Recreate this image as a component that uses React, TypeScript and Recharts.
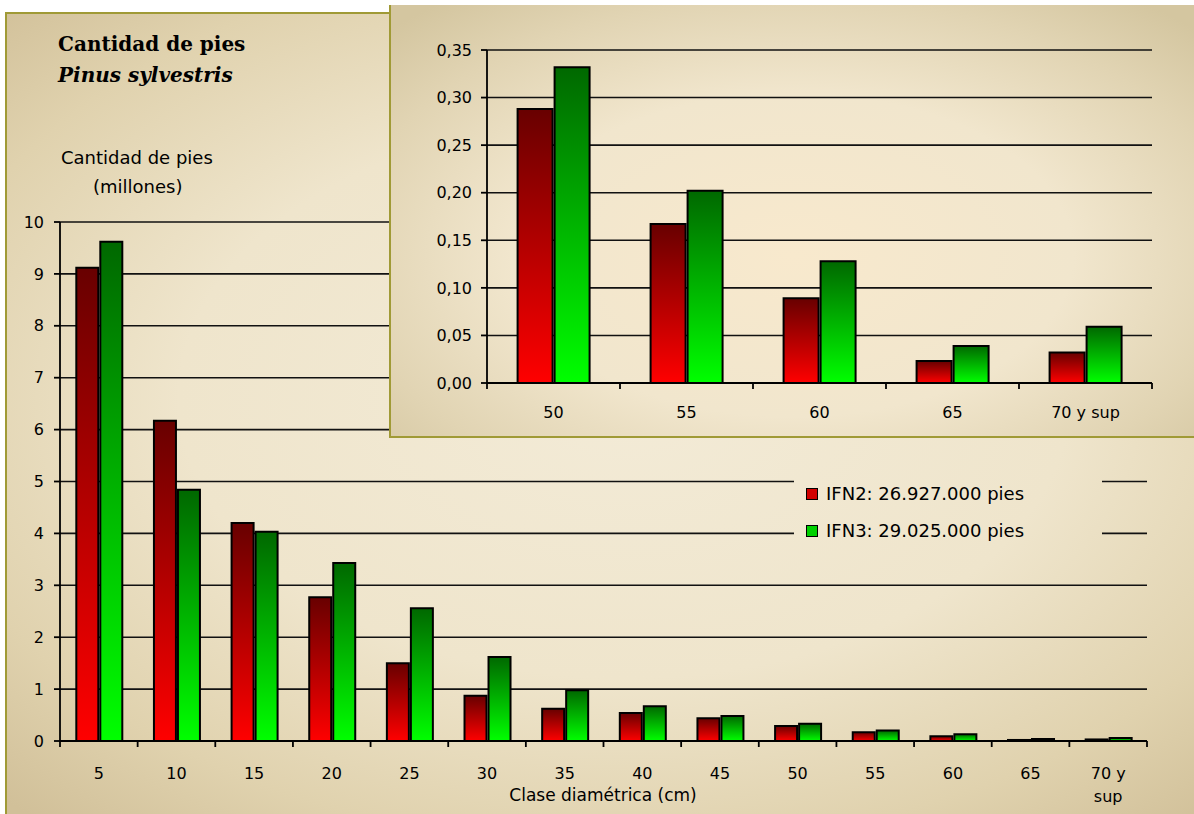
import { Bar, BarChart, CartesianGrid, XAxis, YAxis } from "recharts";

// Main chart: diameter classes (cm)
const categories = ["5", "10", "15", "20", "25", "30", "35", "40", "45", "50", "55", "60", "65", "70 y sup"];
// millions of trees
const ifn2 = [9.12, 6.17, 4.2, 2.77, 1.5, 0.87, 0.62, 0.54, 0.44, 0.29, 0.17, 0.09, 0.02, 0.03];
const ifn3 = [9.62, 4.84, 4.03, 3.43, 2.56, 1.62, 0.98, 0.67, 0.48, 0.33, 0.2, 0.13, 0.04, 0.06];
const mainTicks = [0, 1, 2, 3, 4, 5, 6, 7, 8, 9, 10];

// Inset: big classes zoomed in
const insetCategories = ["50", "55", "60", "65", "70 y sup"];
const insetIfn2 = [0.288, 0.167, 0.089, 0.023, 0.032];
const insetIfn3 = [0.332, 0.202, 0.128, 0.039, 0.059];
const insetTicks = [0, 0.05, 0.1, 0.15, 0.2, 0.25, 0.3, 0.35];

const seriesNames = ["IFN2: 26.927.000 pies", "IFN3: 29.025.000 pies"];
const title = "Cantidad de pies";
const subtitle = "Pinus sylvestris";
const yLabel = ["Cantidad de pies", "(millones)"];
const xLabel = "Clase diamétrica (cm)";

const FONT = "DejaVu Sans";
const OLIVE = "#a09a36";
const PANEL_BG =
  "radial-gradient(ellipse 75% 70% at 52% 48%, #f3ebd7 0%, #efe5cc 50%, #e0d2ae 80%, #d1c099 100%)";
const INSET_BG =
  "radial-gradient(ellipse 70% 75% at 50% 58%, #f8e9cd 0%, #f1e6cd 50%, #e1d4b3 80%, #d4c6a0 100%)";

const mainData = categories.map((c, i) => ({ name: c, ifn2: ifn2[i], ifn3: ifn3[i] }));
const insetData = insetCategories.map((c, i) => ({ name: c, ifn2: insetIfn2[i], ifn3: insetIfn3[i] }));

// main plot geometry
const W = 1194;
const H = 814;
const M_LEFT = 60;
const M_RIGHT = 47;
const M_TOP = 222;
const M_BOTTOM = 73;
const mainBand = (W - M_LEFT - M_RIGHT) / categories.length;

// inset geometry
const I_W = 803;
const I_H = 431;
const I_LEFT = 96;
const I_RIGHT = 42;
const I_TOP = 45;
const I_BOTTOM = 53;
const insetBand = (I_W - I_LEFT - I_RIGHT) / insetCategories.length;

// excel-style category ticks: marks sit between categories
function makeTick(band: number, count: number, wrap: boolean, textDy: number) {
  return (props: any) => {
    const { x, y, payload, index } = props;
    const label = String(payload.value);
    const lines = wrap && label.length > 4 ? [label.slice(0, 4), label.slice(5)] : [label];
    return (
      <g>
        <line x1={x - band / 2} x2={x - band / 2} y1={y} y2={y + 6} stroke="#000" strokeWidth={1.8} />
        {index === count - 1 && (
          <line x1={x + band / 2} x2={x + band / 2} y1={y} y2={y + 6} stroke="#000" strokeWidth={1.8} />
        )}
        {lines.map((l, k) => (
          <text key={k} x={x} y={y + textDy + k * 23} textAnchor="middle" fontFamily={FONT} fontSize={16} fill="#000">
            {l}
          </text>
        ))}
      </g>
    );
  };
}

function Gradients({ prefix }: { prefix: string }) {
  return (
    <defs>
      <linearGradient id={`${prefix}-red`} x1="0" y1="0" x2="0" y2="1">
        <stop offset="0%" stopColor="#680000" />
        <stop offset="100%" stopColor="#ff0000" />
      </linearGradient>
      <linearGradient id={`${prefix}-green`} x1="0" y1="0" x2="0" y2="1">
        <stop offset="0%" stopColor="#006800" />
        <stop offset="100%" stopColor="#00ff00" />
      </linearGradient>
    </defs>
  );
}

export default function App() {
  return (
    <div style={{ position: "fixed", left: 0, top: 0, width: W, height: H, background: "#fff", overflow: "hidden" }}>
      <div
        style={{
          position: "absolute",
          left: 5,
          top: 12,
          width: W - 5,
          height: H - 12,
          boxSizing: "border-box",
          borderLeft: `2px solid ${OLIVE}`,
          borderTop: `2px solid ${OLIVE}`,
          background: PANEL_BG,
        }}
      />
      <div style={{ position: "absolute", left: 0, top: 0 }}>
        <BarChart
          width={W}
          height={H}
          data={mainData}
          margin={{ top: M_TOP, right: M_RIGHT, bottom: M_BOTTOM - 60, left: 0 }}
          barCategoryGap="21%"
          barGap={2}
        >
          <Gradients prefix="m" />
          <CartesianGrid vertical={false} stroke="#111" strokeWidth={1.6} />
          <XAxis
            dataKey="name"
            height={60}
            interval={0}
            tickSize={0}
            tickMargin={0}
            tickLine={false}
            axisLine={{ stroke: "#000", strokeWidth: 1.8 }}
            tick={makeTick(mainBand, categories.length, true, 38)}
          />
          <YAxis
            width={M_LEFT}
            domain={[0, 10]}
            ticks={mainTicks}
            interval={0}
            tickSize={6}
            tickMargin={10}
            axisLine={{ stroke: "#000", strokeWidth: 1.8 }}
            tickLine={{ stroke: "#000", strokeWidth: 1.8 }}
            tick={{ fontFamily: FONT, fontSize: 16, fill: "#000" }}
          />
          <Bar dataKey="ifn2" name={seriesNames[0]} fill="url(#m-red)" stroke="#000" strokeWidth={2} isAnimationActive={false} />
          <Bar dataKey="ifn3" name={seriesNames[1]} fill="url(#m-green)" stroke="#000" strokeWidth={2} isAnimationActive={false} />
        </BarChart>
      </div>

      <svg width={W} height={H} style={{ position: "absolute", left: 0, top: 0, pointerEvents: "none" }}>
        <text x={58} y={51} fontFamily="DejaVu Serif" fontWeight="bold" fontSize={20} fill="#000">
          {title}
        </text>
        <text x={58} y={82} fontFamily="DejaVu Serif" fontWeight="bold" fontStyle="italic" fontSize={20} fill="#000">
          {subtitle}
        </text>
        <text x={61} y={164} fontFamily={FONT} fontSize={18} fill="#000">
          {yLabel[0]}
        </text>
        <text x={93} y={193} fontFamily={FONT} fontSize={18} fill="#000">
          {yLabel[1]}
        </text>
        <text x={603} y={801} textAnchor="middle" fontFamily={FONT} fontSize={17} fill="#000">
          {xLabel}
        </text>
      </svg>

      <div
        style={{
          position: "absolute",
          left: 794,
          top: 470,
          width: 308,
          height: 76,
          background: PANEL_BG,
          backgroundSize: `${W - 5}px ${H - 12}px`,
          backgroundPosition: `-789px -458px`,
          fontFamily: FONT,
          fontSize: 18,
          color: "#000",
        }}
      >
        {seriesNames.map((n, i) => (
          <div key={n} style={{ position: "absolute", left: 12, top: 13 + i * 37, display: "flex", alignItems: "center", whiteSpace: "nowrap" }}>
            <span
              style={{
                display: "inline-block",
                width: 10,
                height: 10,
                border: "1.5px solid #000",
                background: i === 0 ? "#d00000" : "#00d000",
                marginRight: 8,
              }}
            />
            <span style={{ lineHeight: "22px" }}>{n}</span>
          </div>
        ))}
      </div>

      <div
        style={{
          position: "absolute",
          left: 389,
          top: 5,
          width: W - 389,
          height: 433,
          boxSizing: "border-box",
          borderLeft: `2px solid ${OLIVE}`,
          borderBottom: `2px solid ${OLIVE}`,
          background: INSET_BG,
        }}
      >
        <BarChart
          width={I_W}
          height={I_H}
          data={insetData}
          margin={{ top: I_TOP, right: I_RIGHT, bottom: I_BOTTOM - 45, left: 0 }}
          barCategoryGap="23%"
          barGap={2}
        >
          <Gradients prefix="i" />
          <CartesianGrid vertical={false} stroke="#111" strokeWidth={1.6} />
          <XAxis
            dataKey="name"
            height={45}
            interval={0}
            tickSize={0}
            tickMargin={0}
            tickLine={false}
            axisLine={{ stroke: "#000", strokeWidth: 1.8 }}
            tick={makeTick(insetBand, insetCategories.length, false, 35)}
          />
          <YAxis
            width={I_LEFT}
            domain={[0, 0.35]}
            ticks={insetTicks}
            interval={0}
            tickSize={6}
            tickMargin={9}
            axisLine={{ stroke: "#000", strokeWidth: 1.8 }}
            tickLine={{ stroke: "#000", strokeWidth: 1.8 }}
            tick={{ fontFamily: FONT, fontSize: 16, fill: "#000" }}
            tickFormatter={(v: number) => v.toFixed(2).replace(".", ",")}
          />
          <Bar dataKey="ifn2" name={seriesNames[0]} fill="url(#i-red)" stroke="#000" strokeWidth={2} isAnimationActive={false} />
          <Bar dataKey="ifn3" name={seriesNames[1]} fill="url(#i-green)" stroke="#000" strokeWidth={2} isAnimationActive={false} />
        </BarChart>
      </div>
    </div>
  );
}
